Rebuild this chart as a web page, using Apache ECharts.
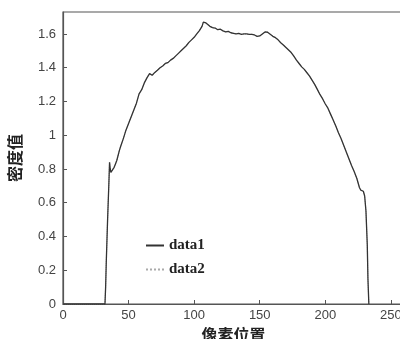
<!DOCTYPE html>
<html>
<head>
<meta charset="utf-8">
<script src="https://cdn.jsdelivr.net/npm/echarts@6/dist/echarts.min.js"></script>
<style>
html,body{margin:0;padding:0;background:#fff;overflow:hidden;width:400px;height:339px;}
#c{width:404px;height:339px;}
</style>
</head>
<body>
<div id="c"></div>
<script>
const pixelPos = [0, 32, 32.5, 33, 34, 35, 35.5, 36, 36.5, 37, 38, 39, 40, 41, 42, 43, 44, 46, 48, 50, 52, 54, 56, 58, 60, 62, 64, 66, 67, 68, 69, 70, 72, 74, 76, 78, 80, 82, 84, 86, 88, 90, 92, 94, 96, 98, 100, 102, 104, 106, 107, 108, 109, 110, 112, 114, 116, 118, 120, 122, 124, 126, 128, 130, 132, 134, 136, 138, 140, 142, 144, 146, 148, 150, 152, 154, 155, 156, 157, 158, 160, 162, 164, 166, 168, 170, 172, 174, 176, 178, 180, 182, 184, 186, 188, 190, 192, 194, 196, 198, 200, 202, 204, 206, 208, 210, 212, 214, 216, 218, 220, 222, 224, 226, 227, 228, 229, 230, 231, 232, 232.5, 233.2];
const density1 = [0, 0, 0.1, 0.25, 0.5, 0.72, 0.84, 0.8, 0.78, 0.775, 0.79, 0.81, 0.83, 0.85, 0.88, 0.91, 0.935, 0.98, 1.03, 1.07, 1.11, 1.15, 1.19, 1.245, 1.27, 1.31, 1.34, 1.365, 1.375, 1.355, 1.36, 1.372, 1.385, 1.4, 1.41, 1.425, 1.43, 1.445, 1.455, 1.47, 1.485, 1.5, 1.515, 1.53, 1.55, 1.565, 1.58, 1.6, 1.62, 1.645, 1.67, 1.675, 1.665, 1.655, 1.645, 1.637, 1.635, 1.625, 1.628, 1.618, 1.612, 1.615, 1.607, 1.604, 1.6, 1.603, 1.598, 1.6, 1.6, 1.597, 1.598, 1.594, 1.586, 1.588, 1.6, 1.612, 1.615, 1.61, 1.605, 1.598, 1.586, 1.578, 1.565, 1.548, 1.535, 1.52, 1.505, 1.49, 1.468, 1.445, 1.425, 1.405, 1.39, 1.37, 1.35, 1.325, 1.3, 1.27, 1.24, 1.215, 1.185, 1.16, 1.125, 1.09, 1.055, 1.015, 0.98, 0.94, 0.9, 0.86, 0.82, 0.785, 0.745, 0.69, 0.675, 0.672, 0.668, 0.64, 0.55, 0.35, 0.15, 0];
const density2 = density1;
const seriesNames = ['data1', 'data2'];
const xTicks = [0, 50, 100, 150, 200, 250];
const yTicks = [0, 0.2, 0.4, 0.6, 0.8, 1, 1.2, 1.4, 1.6];

const pairs = (ys) => pixelPos.map((x, i) => [x, ys[i]]);
const chart = echarts.init(document.getElementById('c'), null, {renderer: 'canvas'});
const labelFont = {color: '#444', fontSize: 13, fontFamily: 'Liberation Sans, Arial, sans-serif'};
chart.setOption({
  animation: false,
  backgroundColor: '#fff',
  grid: {left: 63, right: 0, top: 12, bottom: 35, containLabel: false, outerBoundsMode: 'none',
    show: true, borderColor: '#555', borderWidth: 1.2},
  legend: {
    orient: 'vertical', left: 140, top: 233, itemGap: 9, itemWidth: 18, itemHeight: 10,
    itemStyle: {opacity: 0},
    textStyle: {color: '#222', fontSize: 15, fontWeight: 'bold', fontFamily: 'Liberation Serif, serif'},
    data: seriesNames
  },
  xAxis: {
    type: 'value', min: 0, max: 260, interval: 50,
    name: '像素位置', nameLocation: 'middle', nameGap: 17,
    nameTextStyle: {color: '#222', fontSize: 16, fontWeight: 'bold', fontFamily: 'Noto Sans CJK SC'},
    axisLine: {lineStyle: {color: '#555', width: 1.2}},
    axisTick: {inside: true, length: 4, lineStyle: {color: '#555'}},
    axisLabel: Object.assign({margin: 5, showMaxLabel: false,
      formatter: (v) => xTicks.includes(v) ? String(v) : ''}, labelFont),
    splitLine: {show: false}
  },
  yAxis: {
    type: 'value', min: 0, max: 1.73, interval: 0.2,
    name: '密度值', nameLocation: 'middle', nameGap: 40, nameRotate: 90,
    nameTextStyle: {color: '#222', fontSize: 16, fontWeight: 'bold', fontFamily: 'Noto Sans CJK SC'},
    axisLine: {lineStyle: {color: '#555', width: 1.2}},
    axisTick: {inside: true, length: 4, lineStyle: {color: '#555'}},
    axisLabel: Object.assign({margin: 7, showMaxLabel: false,
      formatter: (v) => {const r = Math.round(v * 10) / 10; return yTicks.includes(r) ? String(r) : '';}}, labelFont),
    splitLine: {show: false}
  },
  series: [
    {name: seriesNames[0], type: 'line', symbol: 'none', data: pairs(density1),
      lineStyle: {color: '#333', width: 1.3}, itemStyle: {color: '#333'}, z: 3},
    {name: seriesNames[1], type: 'line', symbol: 'none', data: pairs(density2),
      lineStyle: {color: '#aaa', width: 1, type: 'dotted'}, itemStyle: {color: '#aaa'}, z: 2}
  ]
});
</script>
</body>
</html>
